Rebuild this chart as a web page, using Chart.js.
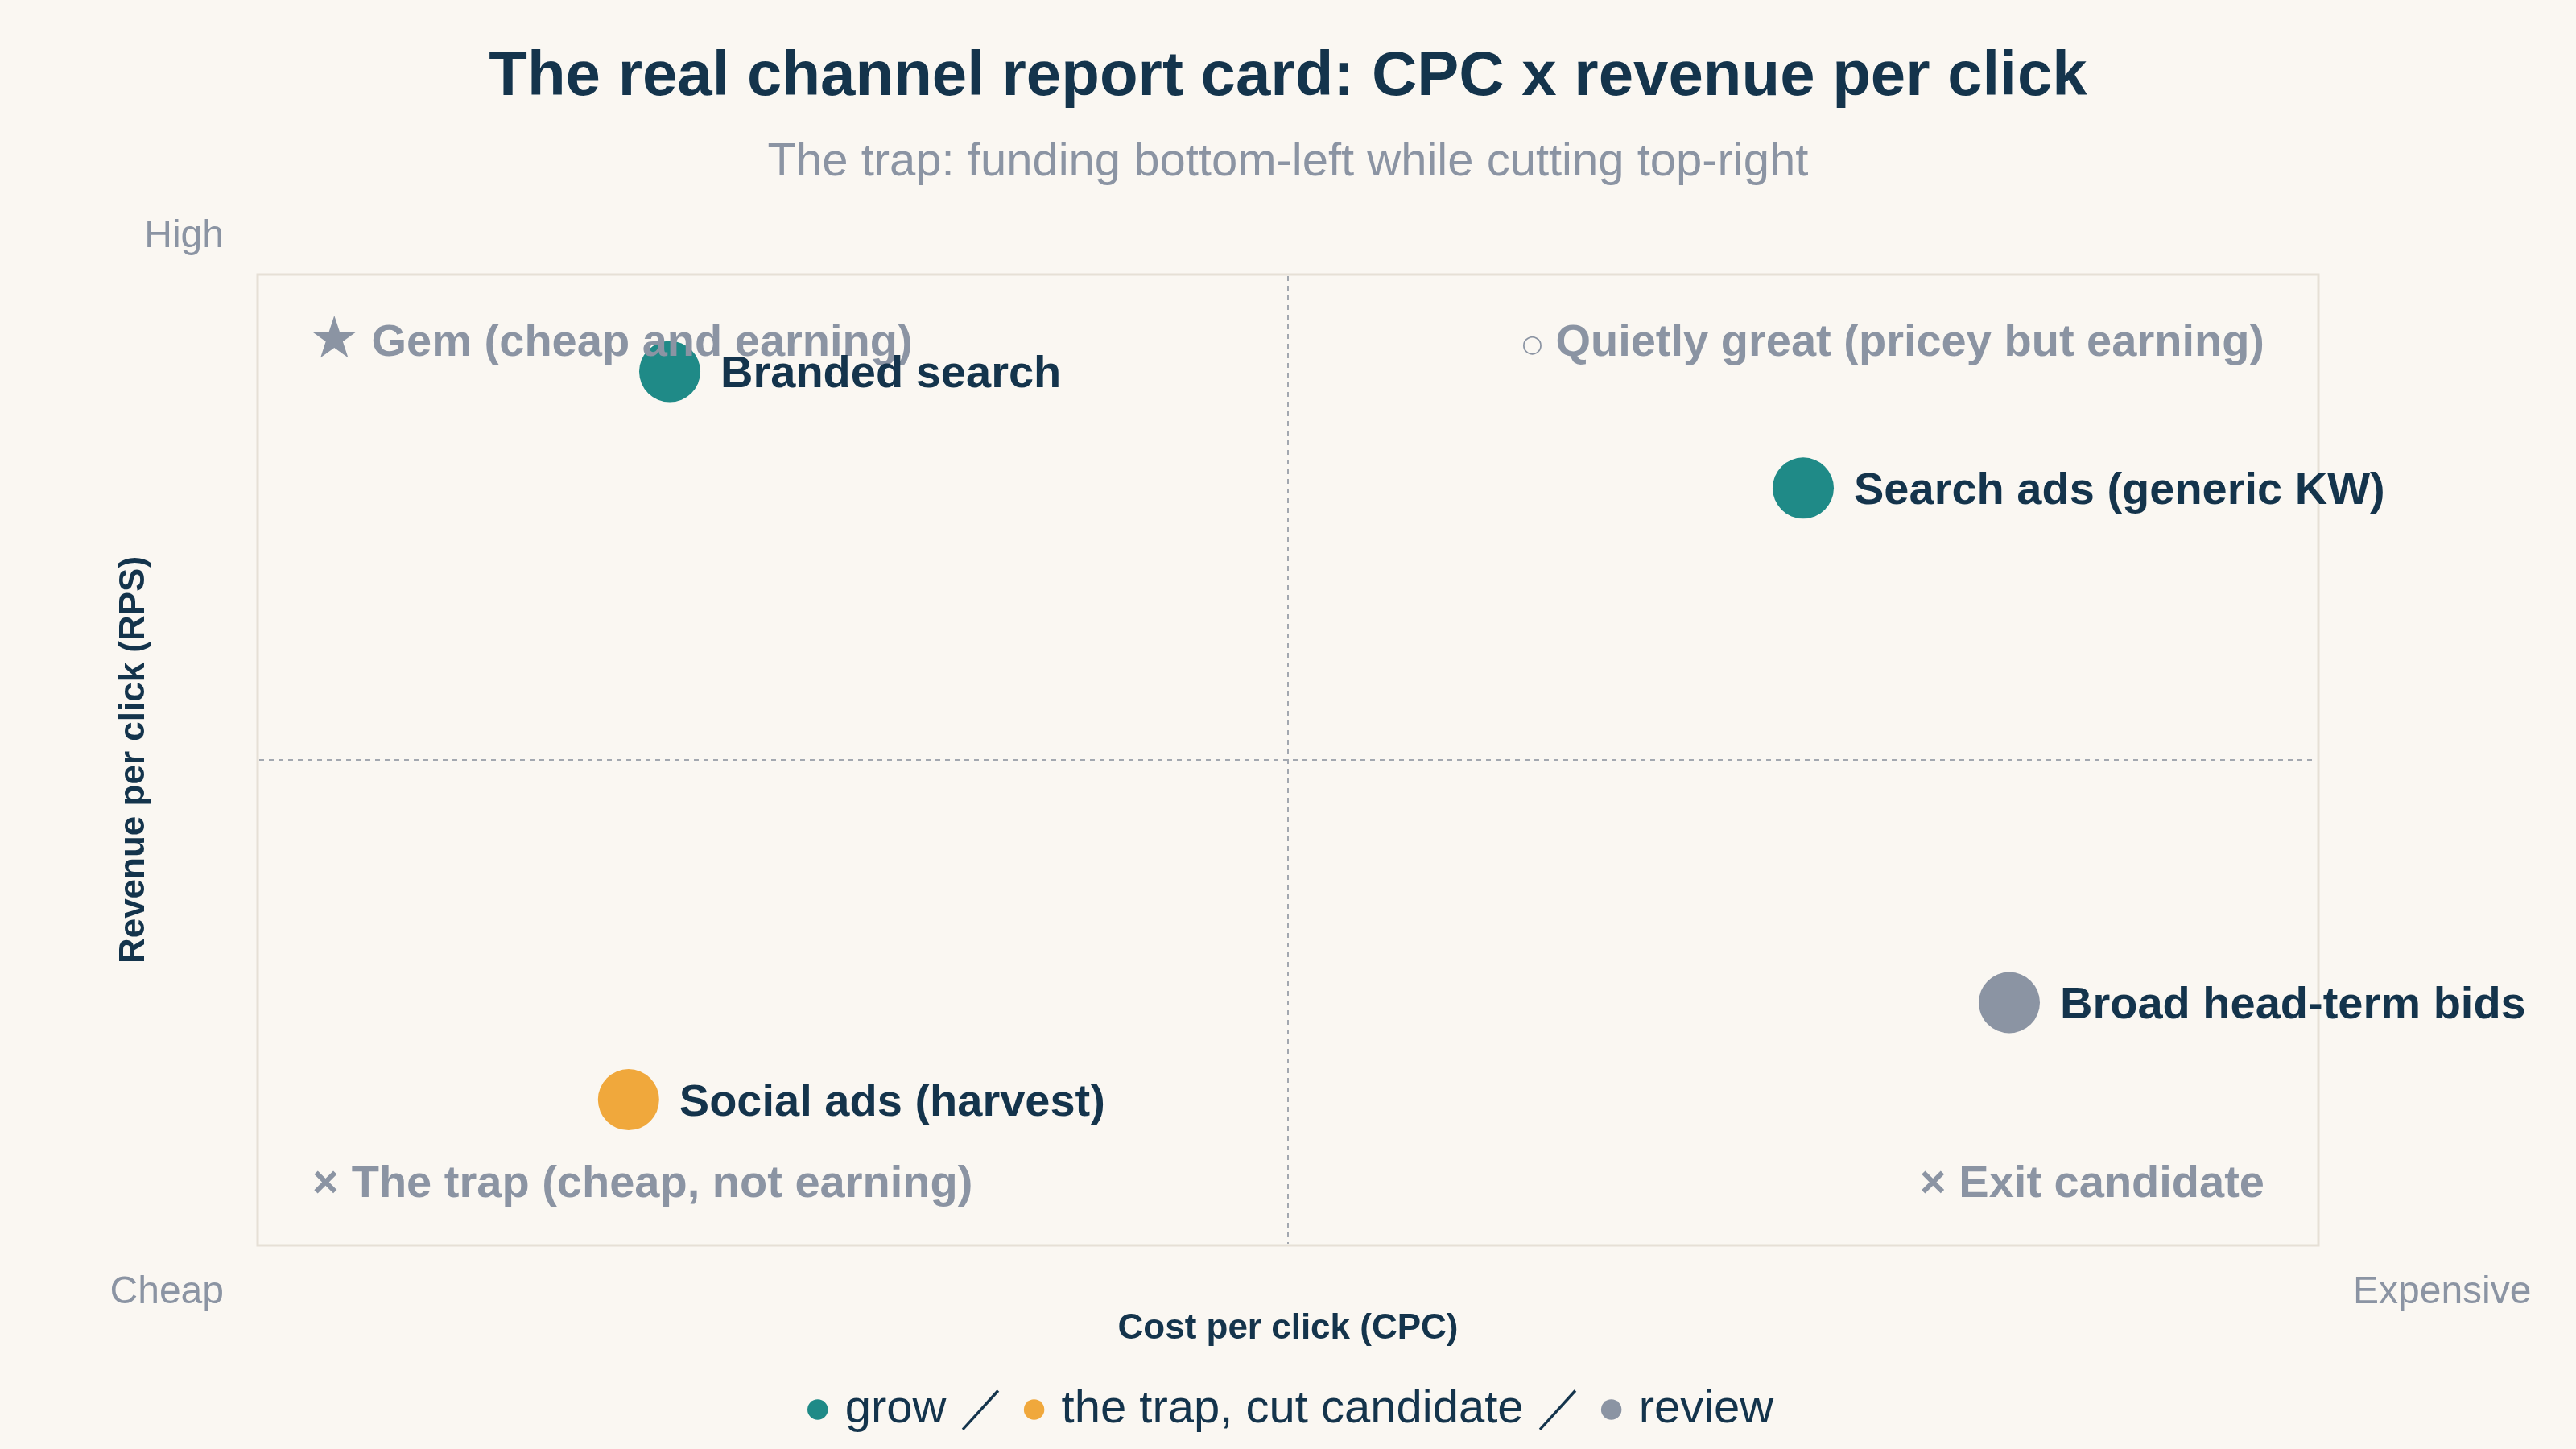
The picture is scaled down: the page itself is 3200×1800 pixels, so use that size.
<!DOCTYPE html>
<html>
<head>
<meta charset="utf-8">
<script src="https://cdn.jsdelivr.net/npm/chart.js@4/dist/chart.umd.min.js"></script>
<style>
html, body { margin: 0; padding: 0; background: #faf7f2; }
#wrap { width: 3200px; height: 1800px; }
</style>
</head>
<body>
<div id="wrap"><canvas id="c" width="3200" height="1800"></canvas></div>
<script>
// ---- data ----
const categories = ['grow', 'the trap, cut candidate', 'review'];
const categoryColors = ['#1f8a87', '#f0a83c', '#8b94a3'];
const channelNames = ['Branded search', 'Search ads (generic KW)', 'Social ads (harvest)', 'Broad head-term bids'];
const channelCPC = [2.0, 7.5, 1.8, 8.5];   // x: cost per click (0 cheap .. 10 expensive)
const channelRPC = [9.0, 7.8, 1.5, 2.5];   // y: revenue per click (0 low .. 10 high)
const channelCategory = [0, 0, 1, 2];
const quadrantSymbols = ['★', '○', '×', '×'];
const quadrantTexts = ['Gem (cheap and earning)', 'Quietly great (pricey but earning)', 'The trap (cheap, not earning)', 'Exit candidate'];
const axisEndLabels = ['High', 'Cheap', 'Expensive'];
const axisRange = [0, 10];
const axisMid = 5;
const titleText = 'The real channel report card: CPC x revenue per click';
const subtitleText = 'The trap: funding bottom-left while cutting top-right';
const xTitle = 'Cost per click (CPC)';
const yTitle = 'Revenue per click (RPS)';
const legendSeparator = ' ／';

// ---- styles ----
const NAVY = '#14344c';
const GRAY = '#8b94a3';
const BG = '#faf7f2';
const FONT = '"Liberation Sans", Arial, Helvetica, sans-serif';
const TEXT_DY = 4;

const datasets = categories.map((cat, ci) => ({
  label: cat,
  data: channelNames
    .map((n, i) => ({ x: channelCPC[i], y: channelRPC[i], name: n, c: channelCategory[i] }))
    .filter(p => p.c === ci),
  backgroundColor: categoryColors[ci],
  borderColor: categoryColors[ci],
  borderWidth: 0,
  pointRadius: 38,
  pointHoverRadius: 38,
  pointStyle: 'circle'
}));

const bgPlugin = {
  id: 'bg',
  beforeDraw(chart) {
    const ctx = chart.ctx;
    ctx.save();
    ctx.fillStyle = BG;
    ctx.fillRect(0, 0, chart.width, chart.height);
    ctx.restore();
  }
};

const legendShiftPlugin = {
  id: 'legendShift',
  afterLayout(chart) {
    if (chart.legend) {
      chart.legend.left += 7;
      chart.legend.right += 7;
    }
  }
};

const quadPlugin = {
  id: 'quad',
  beforeDatasetsDraw(chart) {
    const { ctx, chartArea: a, scales: { x, y } } = chart;
    ctx.save();
    ctx.strokeStyle = '#e6e0d6';
    ctx.lineWidth = 3;
    ctx.strokeRect(a.left, a.top, a.right - a.left, a.bottom - a.top);
    ctx.setLineDash([6, 6]);
    ctx.lineWidth = 2;
    ctx.strokeStyle = '#a3a8b0';
    const mx = x.getPixelForValue(axisMid);
    const my = y.getPixelForValue(axisMid);
    ctx.beginPath();
    ctx.moveTo(mx, a.top + 2); ctx.lineTo(mx, a.bottom - 2);
    ctx.moveTo(a.left + 2, my); ctx.lineTo(a.right - 2, my);
    ctx.stroke();
    ctx.restore();
  },
  afterDatasetsDraw(chart) {
    const { ctx, chartArea: a } = chart;
    ctx.save();
    ctx.textBaseline = 'middle';
    // quadrant labels
    const textFont = 'bold 56px ' + FONT;
    const symFonts = ['bold 72px "DejaVu Sans", ' + FONT, 'bold 30px "DejaVu Sans", ' + FONT, textFont, textFont];
    const topY = a.top + 82 + TEXT_DY, botY = a.bottom - 79 + TEXT_DY;
    const leftX = a.left + 68, rightX = a.right - 67;
    const pos = [
      { x: leftX - 5, y: topY, align: 'left' },
      { x: rightX, y: topY, align: 'right' },
      { x: leftX, y: botY, align: 'left' },
      { x: rightX, y: botY, align: 'right' }
    ];
    ctx.fillStyle = GRAY;
    quadrantTexts.forEach((t, i) => {
      const p = pos[i];
      ctx.font = symFonts[i];
      const sw = ctx.measureText(quadrantSymbols[i]).width;
      ctx.font = textFont;
      const tw = ctx.measureText(t).width;
      const gap = i === 0 ? 14 : 16;
      let sx;
      if (p.align === 'left') sx = p.x;
      else sx = p.x - tw - gap - sw;
      ctx.textAlign = 'left';
      ctx.font = symFonts[i];
      ctx.fillText(quadrantSymbols[i], sx, p.y + (i === 1 ? 2 : (i === 0 ? -2 : 0)));
      ctx.font = textFont;
      ctx.fillText(t, sx + sw + gap, p.y);
    });
    // axis end labels
    ctx.font = '48px ' + FONT;
    ctx.fillStyle = GRAY;
    ctx.textAlign = 'right';
    ctx.fillText(axisEndLabels[0], a.left - 42, a.top - 51 + TEXT_DY);
    ctx.fillText(axisEndLabels[1], a.left - 42, a.bottom + 55 + TEXT_DY);
    ctx.textAlign = 'left';
    ctx.fillText(axisEndLabels[2], a.right + 43, a.bottom + 55 + TEXT_DY);
    // data labels
    ctx.font = 'bold 56px ' + FONT;
    ctx.fillStyle = NAVY;
    ctx.textAlign = 'left';
    chart.data.datasets.forEach((ds, di) => {
      const meta = chart.getDatasetMeta(di);
      meta.data.forEach((el, j) => {
        ctx.fillText(ds.data[j].name, el.x + 63, el.y + TEXT_DY);
      });
    });
    ctx.restore();
  }
};

Chart.defaults.font.family = FONT;

new Chart(document.getElementById('c'), {
  type: 'scatter',
  data: { datasets },
  plugins: [bgPlugin, legendShiftPlugin, quadPlugin],
  options: {
    responsive: false,
    devicePixelRatio: 1,
    animation: false,
    events: [],
    layout: { autoPadding: false, padding: { top: 0, left: 0, right: 0, bottom: 10 } },
    plugins: {
      title: {
        display: true, text: titleText, color: NAVY,
        font: { family: FONT, size: 78, weight: 'bold', lineHeight: 1.2 },
        padding: { top: 49.2, bottom: 6 }
      },
      subtitle: {
        display: true, text: subtitleText, color: GRAY,
        font: { family: FONT, size: 58, weight: 'normal', lineHeight: 1.2 },
        padding: { top: 18.4, bottom: 104.2 }
      },
      legend: {
        position: 'bottom',
        labels: {
          usePointStyle: true, pointStyle: 'circle',
          boxWidth: 10, boxHeight: 18, padding: 30,
          color: NAVY,
          font: { family: FONT, size: 58, weight: 'normal' },
          generateLabels(chart) {
            const items = Chart.defaults.plugins.legend.labels.generateLabels(chart);
            return items.map((it, i) => Object.assign(it, {
              text: it.text + (i < items.length - 1 ? legendSeparator : ''),
              fontColor: NAVY, lineWidth: 0
            }));
          }
        }
      },
      tooltip: { enabled: false }
    },
    scales: {
      x: {
        type: 'linear', position: 'bottom', min: axisRange[0], max: axisRange[1],
        grid: { display: false, drawTicks: false }, border: { display: false }, ticks: { display: false },
        title: {
          display: true, text: xTitle, color: NAVY,
          font: { family: FONT, size: 44, weight: 'bold', lineHeight: 1.2 },
          padding: { top: 77.6, bottom: 14.6 }
        }
      },
      y: {
        type: 'linear', position: 'left', min: axisRange[0], max: axisRange[1],
        grid: { display: false, drawTicks: false }, border: { display: false }, ticks: { display: false },
        title: {
          display: true, text: yTitle, color: NAVY,
          font: { family: FONT, size: 44, weight: 'bold', lineHeight: 1.2 },
          padding: { top: 140.6, bottom: 126.6 }
        }
      },
      yRight: {
        type: 'linear', position: 'right', min: axisRange[0], max: axisRange[1],
        grid: { display: false, drawTicks: false }, border: { display: false }, ticks: { display: false },
        afterFit(s) { s.width = 320; }
      }
    }
  }
});
</script>
</body>
</html>
